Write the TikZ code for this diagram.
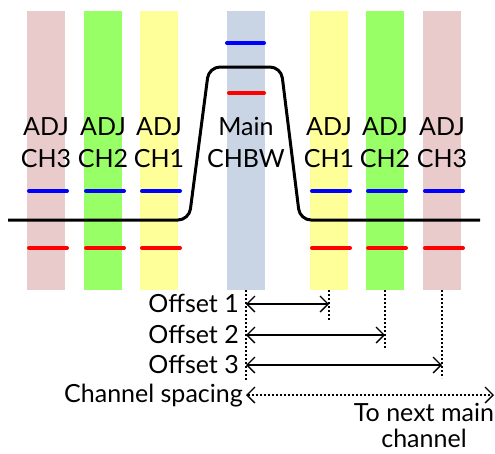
\documentclass[tikz,border=0pt]{standalone}
\usepackage{fontspec}
\setmainfont{Lato}
\usetikzlibrary{arrows.meta,calc}
\definecolor{pinkc}{HTML}{EACBCB}
\definecolor{greenc}{HTML}{99FF66}
\definecolor{yellowc}{HTML}{FFFF99}
\definecolor{mainc}{HTML}{C9D5E5}
\begin{document}
\begin{tikzpicture}[x=1pt,y=-1pt,
  bar/.style={draw=none,minimum width=38pt,minimum height=279pt,inner sep=0pt,outer sep=0pt},
  lbl/.style={anchor=base,inner sep=0pt,font=\fontsize{25}{29}\selectfont},
  rlbl/.style={anchor=base east,inner sep=0pt,font=\fontsize{25}{29}\selectfont},
  bluetick/.style={draw=blue,line width=4pt,line cap=round},
  redtick/.style={draw=red,line width=4pt,line cap=round},
  guide/.style={line width=1.2pt,dash pattern=on 2pt off 2pt},
  dim/.style={line width=1.3pt,{Straight Barb[length=8pt,width=16pt,line width=1.3pt]}-{Straight Barb[length=8pt,width=16pt,line width=1.3pt]}},
  ]
\useasboundingbox (0,0) rectangle (495,453);
% bars
\node[bar,fill=pinkc]   (l3) at (46,150.5) {};
\node[bar,fill=greenc]  (l2) at (103,150.5) {};
\node[bar,fill=yellowc] (l1) at (159,150.5) {};
\node[bar,fill=mainc]   (m)  at (246,150.5) {};
\node[bar,fill=yellowc] (r1) at (329,150.5) {};
\node[bar,fill=greenc]  (r2) at (385,150.5) {};
\node[bar,fill=pinkc]   (r3) at (442,150.5) {};
% labels
\node[lbl] (t1a) at (46,135) {ADJ};  \node[lbl] (t1b) at (46,167) {CH3};
\node[lbl] (t2a) at (103,135) {ADJ}; \node[lbl] (t2b) at (103,167) {CH2};
\node[lbl] (t3a) at (159,135) {ADJ}; \node[lbl] (t3b) at (159,167) {CH1};
\node[lbl] (t4a) at (246,135) {Main}; \node[lbl] (t4b) at (246,167) {CHBW};
\node[lbl] (t5a) at (329,135) {ADJ}; \node[lbl] (t5b) at (329,167) {CH1};
\node[lbl] (t6a) at (385,135) {ADJ}; \node[lbl] (t6b) at (385,167) {CH2};
\node[lbl] (t7a) at (442,135) {ADJ}; \node[lbl] (t7b) at (442,167) {CH3};
% ticks
\foreach \c in {46,103,159,329,385,442}{
  \draw[bluetick] (\c-17,191) -- (\c+21,191);
  \draw[redtick] (\c-17,248) -- (\c+21,248);
}
\draw[bluetick] (227,43) -- (264,43);
\draw[redtick] (229,93) -- (264,93);
% spectrum curve
\draw[line width=3pt,rounded corners=11pt] (8,220) -- (189,220) -- (209,67) -- (281,67) -- (300,220) -- (480,220);
% guides
\coordinate (mend) at (246,380);
\coordinate (r1end) at (329,320);
\coordinate (r2end) at (385,349);
\coordinate (r3end) at (442,378);
\draw[guide] (m.south) -- (mend);
\draw[guide] (r1.south) -- (r1end);
\draw[guide] (r2.south) -- (r2end);
\draw[guide] (r3.south) -- (r3end);
% dimension arrows
\coordinate (a1) at (246,304); \coordinate (b1) at (329,304);
\coordinate (a2) at (246,335); \coordinate (b2) at (385,335);
\coordinate (a3) at (246,365); \coordinate (b3) at (442,365);
\coordinate (a4) at (246,395); \coordinate (b4) at (494,395);
\draw[dim] (a1) -- (b1);
\draw[dim] (a2) -- (b2);
\draw[dim] (a3) -- (b3);
\draw[dim,dash pattern=on 2pt off 2pt] (a4) -- (b4);
\node[rlbl] (o1) at (239,312) {Offset 1};
\node[rlbl] (o2) at (239,343) {Offset 2};
\node[rlbl] (o3) at (239,373) {Offset 3};
\node[rlbl] (cs) at (243,402) {Channel spacing};
\node[lbl] (tn1) at (424,421) {To next main};
\node[lbl] (tn2) at (424,447) {channel};
\end{tikzpicture}
\end{document}
